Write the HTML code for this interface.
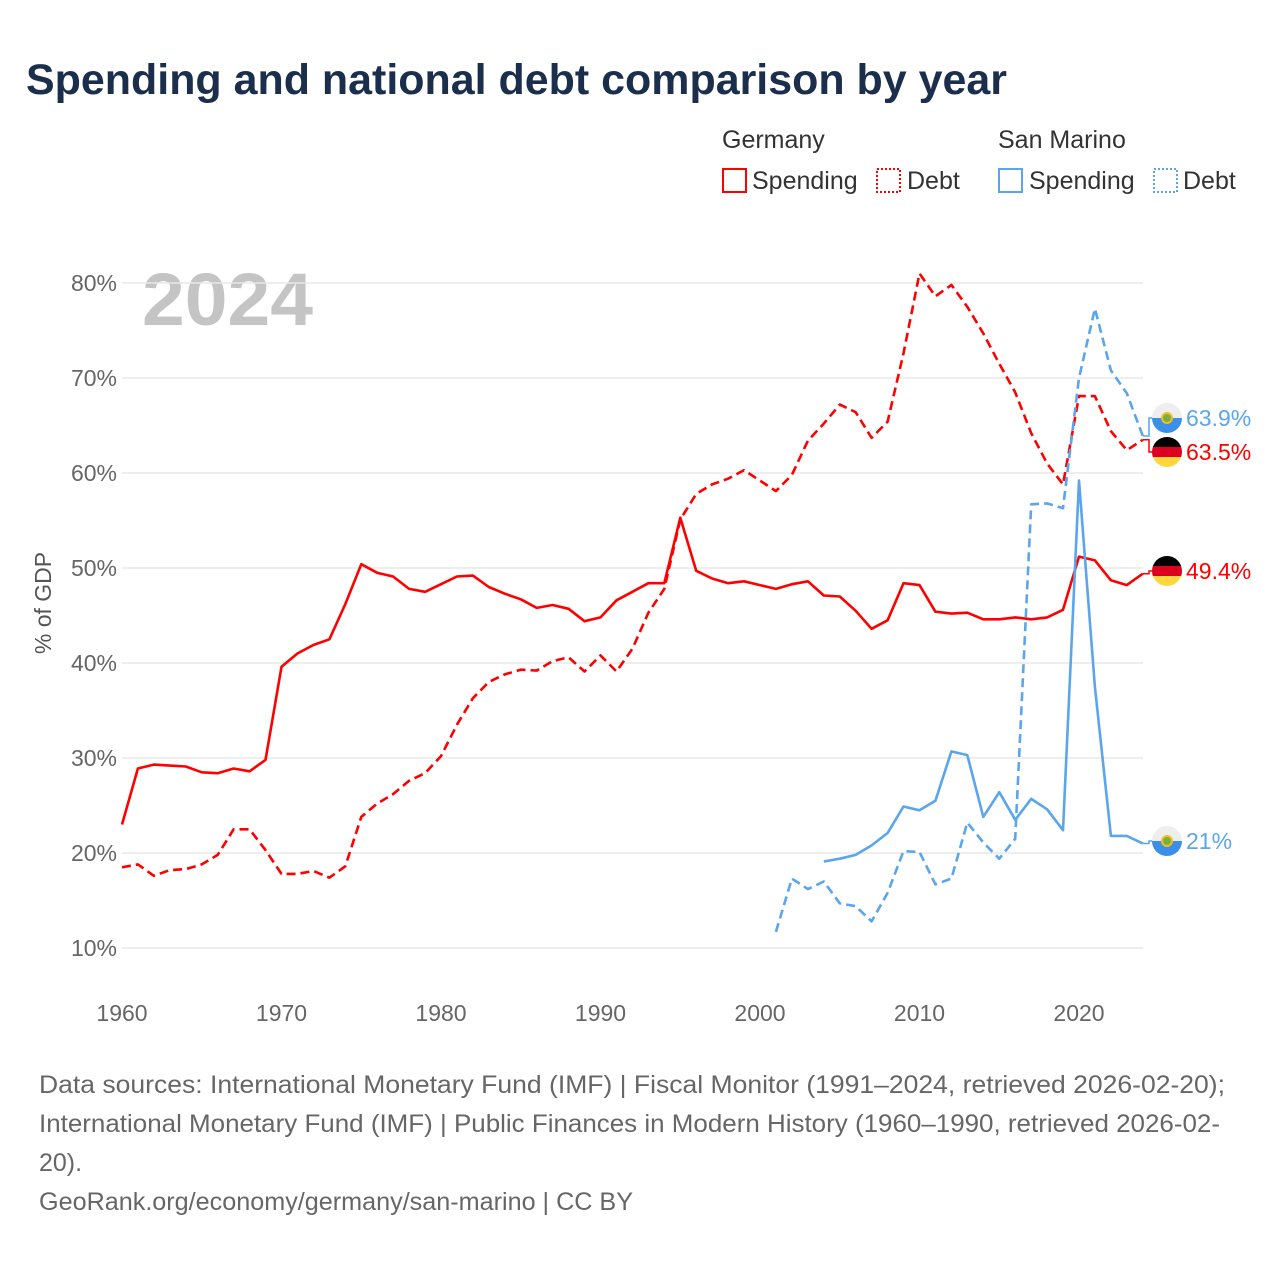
<!DOCTYPE html>
<html><head><meta charset="utf-8">
<style>
body{margin:0;background:#fff;width:1280px;height:1280px;overflow:hidden;font-family:"Liberation Sans",sans-serif}
</style></head>
<body>
<svg id="chart" width="1280" height="1280" xmlns="http://www.w3.org/2000/svg" font-family="Liberation Sans, sans-serif">
<text x="26" y="94" font-size="43" font-weight="bold" fill="#1b2f4d" textLength="981" lengthAdjust="spacingAndGlyphs">Spending and national debt comparison by year</text>
<g font-size="25">
<text x="722" y="148" fill="#333">Germany</text>
<text x="998" y="148" fill="#333">San Marino</text>
<g><rect x="723" y="169" width="23" height="23" fill="none" stroke="#f00" stroke-width="2"/><text x="752" y="189" fill="#333">Spending</text></g>
<g><rect x="877" y="169" width="23" height="23" fill="none" stroke="#f00" stroke-width="2" stroke-dasharray="2,2"/><text x="907" y="189" fill="#333">Debt</text></g>
<g><rect x="999" y="169" width="23" height="23" fill="none" stroke="#5aa5ec" stroke-width="2"/><text x="1029" y="189" fill="#333">Spending</text></g>
<g><rect x="1154" y="169" width="23" height="23" fill="none" stroke="#5aa5ec" stroke-width="2" stroke-dasharray="2,2"/><text x="1183" y="189" fill="#333">Debt</text></g>
</g>
<text x="142" y="325" font-size="74" font-weight="bold" fill="#c4c4c4" textLength="171" lengthAdjust="spacingAndGlyphs">2024</text>
<text transform="translate(51,603) rotate(-90)" text-anchor="middle" font-size="23" fill="#555">% of GDP</text>
<g id="grid"></g><g id="series"></g><g id="labels"></g>
<g font-size="25" fill="#666">
<text x="39" y="1093" textLength="1186" lengthAdjust="spacingAndGlyphs">Data sources: International Monetary Fund (IMF) | Fiscal Monitor (1991–2024, retrieved 2026-02-20);</text>
<text x="39" y="1132" textLength="1181" lengthAdjust="spacingAndGlyphs">International Monetary Fund (IMF) | Public Finances in Modern History (1960–1990, retrieved 2026-02-</text>
<text x="39" y="1171">20).</text>
<text x="39" y="1210" textLength="594" lengthAdjust="spacingAndGlyphs">GeoRank.org/economy/germany/san-marino | CC BY</text>
</g>
</svg>
<script>
const yTicks=[10,20,30,40,50,60,70,80];
const xTicks=[1960,1970,1980,1990,2000,2010,2020];
const deSpending=[23.0,28.9,29.3,29.2,29.1,28.5,28.4,28.9,28.6,29.8,39.6,41.0,41.9,42.5,46.2,50.4,49.5,49.1,47.8,47.5,48.3,49.1,49.2,48.0,47.3,46.7,45.8,46.1,45.7,44.4,44.8,46.6,47.5,48.4,48.4,55.3,49.7,48.9,48.4,48.6,48.2,47.8,48.3,48.6,47.1,47.0,45.5,43.6,44.5,48.4,48.2,45.4,45.2,45.3,44.6,44.6,44.8,44.6,44.8,45.6,51.2,50.8,48.7,48.2,49.4];
const deDebt=[18.5,18.8,17.6,18.2,18.3,18.8,19.8,22.5,22.5,20.3,17.8,17.8,18.1,17.4,18.6,23.8,25.2,26.2,27.6,28.4,30.2,33.5,36.3,38.0,38.8,39.3,39.2,40.2,40.6,39.1,40.8,39.1,41.5,45.3,47.8,55.1,57.8,58.8,59.4,60.3,59.2,58.1,59.8,63.4,65.2,67.2,66.4,63.7,65.4,72.6,81.0,78.6,79.8,77.5,74.7,71.5,68.5,64.2,61.0,58.8,68.1,68.1,64.4,62.4,63.5];
const smSpending=[19.1,19.4,19.8,20.8,22.1,24.9,24.5,25.5,30.7,30.3,23.8,26.4,23.5,25.7,24.6,22.4,59.2,37.5,21.8,21.8,21.0];
const smDebt=[11.7,17.3,16.2,17.0,14.7,14.4,12.8,15.8,20.2,20.1,16.7,17.3,23.2,21.1,19.4,21.5,56.7,56.8,56.3,70.0,77.3,70.8,68.4,63.9];
const deStart=1960, smSpendStart=2004, smDebtStart=2001;
const X=yr=>122+(yr-1960)*15.95;
const Y=v=>948-(v-10)*9.5;
const NS="http://www.w3.org/2000/svg";
function mk(tag,attrs,parent){const e=document.createElementNS(NS,tag);for(const k in attrs)e.setAttribute(k,attrs[k]);parent.appendChild(e);return e;}
const grid=document.getElementById('grid');
yTicks.forEach(v=>{
 const l=mk('line',{x1:122,x2:1143,y1:Y(v),y2:Y(v),stroke:'#e8e8e8','stroke-width':1.5},grid);
 
 
 const t=mk('text',{x:117,y:Y(v)+8,'text-anchor':'end','font-size':23,fill:'#666'},grid);
 t.textContent=v+'%';
 
 
});
xTicks.forEach(yr=>{
 const t=mk('text',{x:X(yr),y:1021,'text-anchor':'middle','font-size':23,fill:'#666'},grid);
 t.textContent=yr;
 
 
});
const ser=document.getElementById('series');
function line(vals,start,color,dash,name){
 const d=vals.map((v,i)=>(i?'L':'M')+X(start+i).toFixed(1)+','+Y(v).toFixed(1)).join('');
 const p=mk('path',{d:d,fill:'none',stroke:color,'stroke-width':2.6,'stroke-linejoin':'round'},ser);
 if(dash)p.setAttribute('stroke-dasharray','9,5');
 
 
}
line(deSpending,deStart,'#ff0000',false,'germany-spending-line');
line(deDebt,deStart,'#ff0000',true,'germany-debt-line');
line(smSpending,smSpendStart,'#5aa5ec',false,'sanmarino-spending-line');
line(smDebt,smDebtStart,'#5aa5ec',true,'sanmarino-debt-line');
const lab=document.getElementById('labels');
function endLabel(v,labelY,color,flag,name){
 const ex=X(2024),ey=Y(v);
 mk('path',{d:`M${ex},${ey}H1149V${labelY}H1155`,fill:'none',stroke:color,'stroke-width':1.5},lab);
 const g=mk('g',{},lab);
 
 
 const cx=1167,cy=labelY,r=15;
 mk('clipPath',{id:'c'+name},g);
 const cp=g.lastChild;mk('circle',{cx:cx,cy:cy,r:r},cp);
 const gg=mk('g',{'clip-path':`url(#c${name})`},g);
 if(flag==='de'){
  mk('rect',{x:cx-r,y:cy-r,width:30,height:10,fill:'#000'},gg);
  mk('rect',{x:cx-r,y:cy-5,width:30,height:10,fill:'#dd0021'},gg);
  mk('rect',{x:cx-r,y:cy+5,width:30,height:10,fill:'#ffd63d'},gg);
 }else{
  mk('rect',{x:cx-r,y:cy-r,width:30,height:15,fill:'#eee'},gg);
  mk('rect',{x:cx-r,y:cy,width:30,height:15,fill:'#3a8fe8'},gg);
  mk('circle',{cx:cx,cy:cy,r:5,fill:'#7ab040',stroke:'#f0c020','stroke-width':2},gg);
 }
 const t=mk('text',{x:1186,y:labelY+8,'font-size':23,fill:color},g);
 t.textContent=v+'%';
}
endLabel(smDebt[smDebt.length-1],418,'#5aa5ec','sm','label-sanmarino-debt');
endLabel(deDebt[deDebt.length-1],452,'#ff0000','de','label-germany-debt');
endLabel(deSpending[deSpending.length-1],571,'#ff0000','de','label-germany-spending');
endLabel(21,841,'#5aa5ec','sm','label-sanmarino-spending');
</script>
</body></html>
